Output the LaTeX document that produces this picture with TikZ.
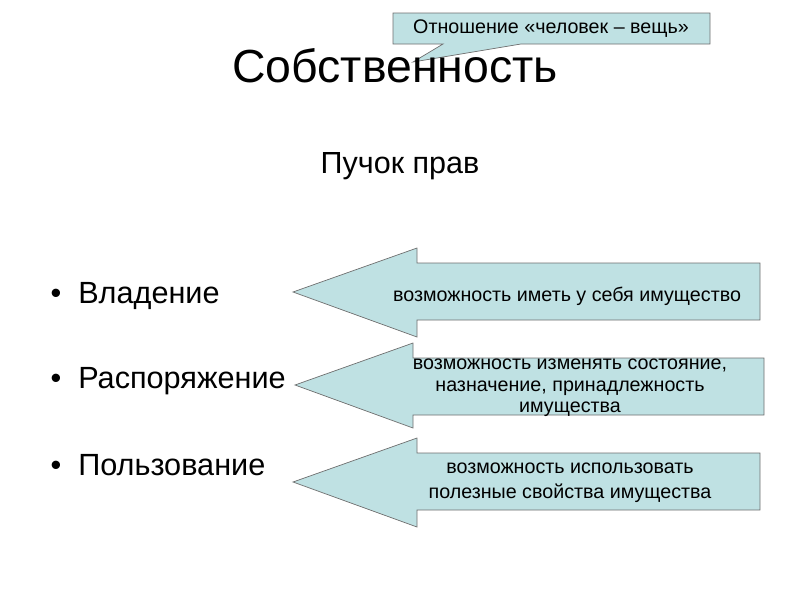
\documentclass[tikz,border=0pt]{standalone}
\usepackage{fontspec}
\setmainfont{Liberation Sans}
\usetikzlibrary{positioning}
\definecolor{aqua}{HTML}{BFE1E3}
\definecolor{edge}{HTML}{6F6F6F}
\tikzset{
  shp/.style  ={draw=edge, line width=.5pt, fill=aqua, line join=miter},
  ttl/.style  ={font=\fontsize{33}{38}\selectfont, anchor=base, inner sep=0pt},
  sub/.style  ={font=\fontsize{21.7}{26}\selectfont, anchor=base, inner sep=0pt},
  itm/.style  ={font=\fontsize{21.8}{26}\selectfont, anchor=base west, inner sep=0pt},
  dot/.style  ={font=\fontsize{21.8}{26}\selectfont, anchor=base, inner sep=0pt},
  note/.style ={font=\fontsize{14}{15.3}\selectfont, align=center, inner sep=0pt},
}

\begin{document}
\begin{tikzpicture}[x=0.025cm,y=-0.025cm]
  \useasboundingbox (0,0) rectangle (800,600);

  \draw[shp] (393,13) -- (710,13) -- (710,44) -- (521,44) -- (413,62) -- (443,44) -- (393,44) -- cycle;
  \node[note] (rel) at (551,29) {Отношение «человек – вещь»};

  \node[ttl] (title) at (395,82) {Собственность};
  \node[sub] (bundle) at (400,173) {Пучок прав};

  \node[dot] (d1) at (56,303) {•};
  \node[dot] (d2) at (56,388) {•};
  \node[dot] (d3) at (56,475) {•};
  \node[itm] (own) at (78,303) {Владение};
  \node[itm] (disp) at (78,388) {Распоряжение};
  \node[itm] (use) at (78,475) {Пользование};

  \draw[shp] (293,292) -- (417,248) -- (417,263) -- (760,263) -- (760,320) -- (417,320) -- (417,337) -- cycle;
  \draw[shp] (295,385) -- (413,343) -- (413,358) -- (764,358) -- (764,415) -- (413,415) -- (413,428) -- cycle;
  \draw[shp] (293,482) -- (417,438) -- (417,453) -- (760,453) -- (760,510) -- (417,510) -- (417,527) -- cycle;

  \node[note] (t1) at (567,296) {возможность иметь у себя имущество};
  \node[note] (t2) at (570,388) {возможность изменять состояние,\\ назначение, принадлежность\\ имущества};
  \node[note,font=\fontsize{14}{17.7}\selectfont] (t3) at (570,483) {возможность использовать\\ полезные свойства имущества};
\end{tikzpicture}
\end{document}
